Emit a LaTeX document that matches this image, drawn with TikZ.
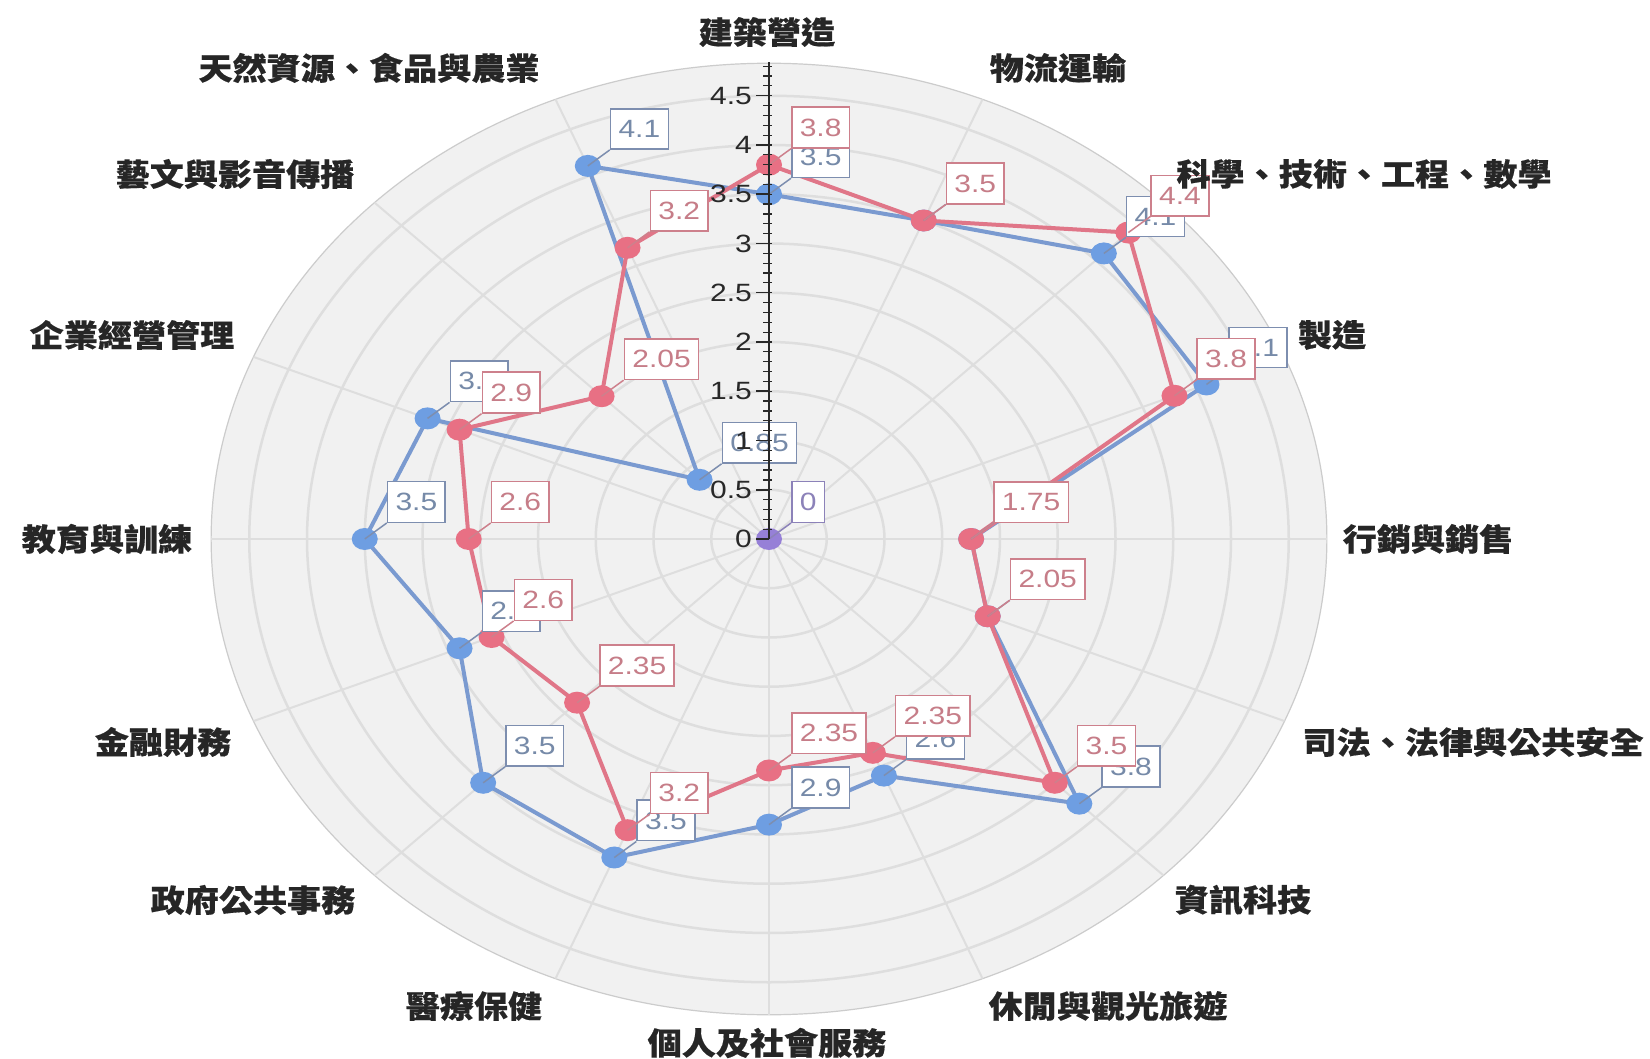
\documentclass[tikz,border=0pt]{standalone}
\usepackage{fontspec}
\setmainfont{Liberation Sans}
\newfontfamily\cjk{Noto Sans CJK TC}[FakeBold=0.45]
\usetikzlibrary{calc}
\definecolor{bluepoint}{RGB}{110,158,226}
\definecolor{blueline}{RGB}{122,154,208}
\definecolor{redpoint}{RGB}{232,112,132}
\definecolor{redline}{RGB}{224,118,136}
\definecolor{bluetext}{RGB}{118,138,168}
\definecolor{blueborder}{RGB}{125,142,175}
\definecolor{redtext}{RGB}{198,125,136}
\definecolor{redborder}{RGB}{205,128,140}
\definecolor{gridline}{RGB}{222,222,222}
\definecolor{diskfill}{RGB}{241,241,241}
\definecolor{purplepoint}{RGB}{150,128,215}
\definecolor{purpleborder}{RGB}{140,130,185}
\definecolor{axiscol}{RGB}{40,40,40}
\newcommand{\numwide}[1]{\scalebox{1.2}[1]{#1}}
\newcommand{\catwide}[1]{\scalebox{1.1}[1]{#1}}
\begin{document}
\begin{tikzpicture}[x=1pt,y=-1pt,
  catlabel/.style={font=\cjk\bfseries\fontsize{31}{31}\selectfont, text=black!85, inner sep=0pt},
  vallabel/.style={draw, fill=white, font=\fontsize{25}{25}\selectfont, inner xsep=8pt, inner ysep=11.5pt, anchor=south west, line width=1.5pt},
  bluelab/.style={vallabel, draw=blueborder, text=bluetext},
  redlab/.style={vallabel, draw=redborder, text=redtext},
  axislab/.style={font=\fontsize{25}{25}\selectfont, text=axiscol, anchor=east, inner sep=0pt}]
\useasboundingbox (0,0) rectangle (1650,1059);
\fill[white] (0,0) rectangle (1650,1059);
\coordinate (c) at (769,539);
% disk and grid
\fill[diskfill] (c) ellipse [x radius={4.83*115.5pt}, y radius={4.83*98.5pt}];
\foreach \r in {0.5,1,1.5,2,2.5,3,3.5,4,4.5}
  \draw[gridline, line width=2.5pt] (c) ellipse [x radius={\r*115.5pt}, y radius={\r*98.5pt}];
\draw[gridline!92!black, line width=1.2pt] (c) ellipse [x radius={4.83*115.5pt}, y radius={4.83*98.5pt}];
\foreach \i in {0,...,15}
  \draw[gridline, line width=2pt] (c) -- ({769+4.83*115.5*sin(\i*22.5)},{539-4.83*98.5*cos(\i*22.5)});
% data coordinates
\foreach \v [count=\i from 0] in {3.5,3.5,4.1,4.1,1.75,2.05,3.8,2.6,2.9,3.5,3.5,2.9,3.5,3.2,0.85,4.1}
  \coordinate (b\i) at ({769+\v*115.5*sin(\i*22.5)},{539-\v*98.5*cos(\i*22.5)});
\foreach \v [count=\i from 0] in {3.8,3.5,4.4,3.8,1.75,2.05,3.5,2.35,2.35,3.2,2.35,2.6,2.6,2.9,2.05,3.2}
  \coordinate (r\i) at ({769+\v*115.5*sin(\i*22.5)},{539-\v*98.5*cos(\i*22.5)});
% blue series
\draw[blueline, line width=4pt, line join=round] (b0) -- (b1) -- (b2) -- (b3) -- (b4) -- (b5) -- (b6) -- (b7) -- (b8) -- (b9) -- (b10) -- (b11) -- (b12) -- (b13) -- (b14) -- (b15) -- cycle;
\foreach \i in {0,...,15}
  \fill[bluepoint] (b\i) ellipse [x radius=13pt, y radius=11pt];
% red series
\draw[redline, line width=4pt, line join=round] (r0) -- (r1) -- (r2) -- (r3) -- (r4) -- (r5) -- (r6) -- (r7) -- (r8) -- (r9) -- (r10) -- (r11) -- (r12) -- (r13) -- (r14) -- (r15) -- cycle;
\foreach \i in {0,...,15}
  \fill[redpoint] (r\i) ellipse [x radius=13pt, y radius=11pt];
% centre point
\fill[purplepoint] (c) ellipse [x radius=13pt, y radius=11pt];
% blue labels
\foreach \v [count=\i from 0] in {3.5,3.5,4.1,4.1,1.75,2.05,3.8,2.6,2.9,3.5,3.5,2.9,3.5,3.2,0.85,4.1} {
  \node[bluelab] (lb\i) at ($(b\i)+(22,-16)$) {\numwide{\v}};
  \draw[blueborder, line width=1.5pt] (b\i) -- (lb\i.south west);
}
\node[vallabel, draw=purpleborder, text=purpleborder] (l0) at ($(c)+(22,-16)$) {\numwide{0}};
\draw[purpleborder, line width=1.5pt] (c) -- (l0.south west);
% red labels
\foreach \v [count=\i from 0] in {3.8,3.5,4.4,3.8,1.75,2.05,3.5,2.35,2.35,3.2,2.35,2.6,2.6,2.9,2.05,3.2} {
  \node[redlab] (lr\i) at ($(r\i)+(22,-16)$) {\numwide{\v}};
  \draw[redborder, line width=1.5pt] (r\i) -- (lr\i.south west);
}
% axis
\coordinate (axtop) at (769,62);
\draw[axiscol, line width=2pt] (c) -- (axtop);
\foreach \k in {1,...,48}
  \draw[axiscol, line width=1.2pt] ({763},{539-\k*9.85}) -- ({772},{539-\k*9.85});
\foreach \v [count=\k from 0] in {0,0.5,1,1.5,2,2.5,3,3.5,4,4.5} {
  \draw[axiscol, line width=1.5pt] ({756},{539-\k*49.25}) -- ({769},{539-\k*49.25});
  \node[axislab] (ax\k) at ({752},{539-\k*49.25}) {\numwide{\v}};
}
% category labels
\node[catlabel] (k0) at (767,32) {\catwide{建築營造}};
\node[catlabel] (k1) at (1058,68) {\catwide{物流運輸}};
\node[catlabel] (k2) at (1364,174) {\catwide{科學、技術、工程、數學}};
\node[catlabel] (k3) at (1332,335) {\catwide{製造}};
\node[catlabel] (k4) at (1428,539) {\catwide{行銷與銷售}};
\node[catlabel] (k5) at (1473,742) {\catwide{司法、法律與公共安全}};
\node[catlabel] (k6) at (1243,900) {\catwide{資訊科技}};
\node[catlabel] (k7) at (1108,1006) {\catwide{休閒與觀光旅遊}};
\node[catlabel] (k8) at (767,1043) {\catwide{個人及社會服務}};
\node[catlabel] (k9) at (474,1006) {\catwide{醫療保健}};
\node[catlabel] (k10) at (253,900) {\catwide{政府公共事務}};
\node[catlabel] (k11) at (163,742) {\catwide{金融財務}};
\node[catlabel] (k12) at (107,539) {\catwide{教育與訓練}};
\node[catlabel] (k13) at (132,335) {\catwide{企業經營管理}};
\node[catlabel] (k14) at (235,174) {\catwide{藝文與影音傳播}};
\node[catlabel] (k15) at (369,68) {\catwide{天然資源、食品與農業}};
\end{tikzpicture}
\end{document}
